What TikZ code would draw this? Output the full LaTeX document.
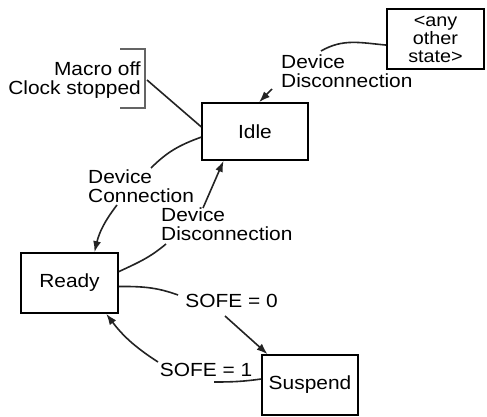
\documentclass[tikz,border=0pt]{standalone}
\usepackage{fontspec}
\setmainfont{Liberation Sans}[FakeStretch=1.1]
\usetikzlibrary{arrows.meta,positioning,calc}
\definecolor{linecol}{RGB}{35,35,35}
\definecolor{brackcol}{RGB}{100,100,100}
\tikzset{
  stbox/.style={draw,line width=1.7pt,inner sep=0pt,align=center,font=\fontsize{18}{18}\selectfont},
  lbl/.style={inner sep=0pt,font=\fontsize{19}{19.5}\selectfont},
  seg/.style={-,draw=linecol,line width=1.6pt},
  arr/.style={-{Latex[length=11pt,width=8pt]},draw=linecol,line width=1.6pt}
}
\begin{document}
\begin{tikzpicture}[x=1pt,y=1pt]
  \useasboundingbox (0,0) rectangle (487,-417);
  \node[stbox,minimum width=97pt,minimum height=60pt] (other) at (435.5,-39){<any\\other\\state>};
  \node[stbox,minimum width=106pt,minimum height=57pt,font=\fontsize{19}{19}\selectfont] (idle) at (255,-131.5){Idle};
  \node[stbox,minimum width=97pt,minimum height=60pt,font=\fontsize{19}{19}\selectfont] (ready) at (69.5,-283){Ready};
  \node[stbox,minimum width=96pt,minimum height=60pt,font=\fontsize{19}{19}\selectfont] (suspend) at (310,-385){Suspend};
  % labels
  \node[lbl,align=right,anchor=east] (mo) at (141,-80){Macro off\\Clock stopped};
  \node[lbl,align=left,anchor=west] (dis1) at (281,-71){Device\\Disconnection};
  \node[lbl,align=left,anchor=west] (con) at (88,-186){Device\\Connection};
  \node[lbl,align=left,anchor=west] (dis2) at (161,-224){Device\\Disconnection};
  \node[lbl] (s0) at (231.5,-300.5){SOFE = 0};
  \node[lbl] (s1) at (206,-369.5){SOFE = 1};
  % bracket
  \draw[draw=brackcol,line width=1.2pt] (120,-49) -- (145,-49) -- (145,-108) -- (120,-108);
  \coordinate (brk) at (147,-80);
  \draw[seg] (brk) -- (idle.175);
  % other -> idle
  \coordinate (c1) at (321,-51); \coordinate (c2) at (272,-89);
  \draw[seg] (other.187) to[out=175,in=30] (c1);
  \draw[arr] (c2) -- (idle.82);
  % idle -> ready
  \coordinate (c3) at (151,-168); \coordinate (c4) at (117,-205);
  \draw[seg] (idle.186) to[out=200,in=45] (c3);
  \draw[arr] (c4) to[bend right=12] (ready.51);
  % ready -> idle
  \coordinate (c5) at (166,-244); \coordinate (c6) at (203,-208);
  \draw[seg] (ready.13) to[out=25,in=220] (c5);
  \draw[arr] (c6) -- (idle.223);
  % ready -> suspend
  \coordinate (c7) at (178,-295); \coordinate (c8) at (225,-316);
  \draw[seg] (ready.-4) to[out=0,in=160] (c7);
  \draw[arr] (c8) -- (suspend.144);
  % suspend -> ready
  \coordinate (c9) at (214,-382); \coordinate (c10) at (158,-362);
  \draw[seg] (suspend.173) to[out=188,in=0] (c9);
  \draw[arr] (c10) to[bend left=10] (ready.-40);
\end{tikzpicture}
\end{document}
